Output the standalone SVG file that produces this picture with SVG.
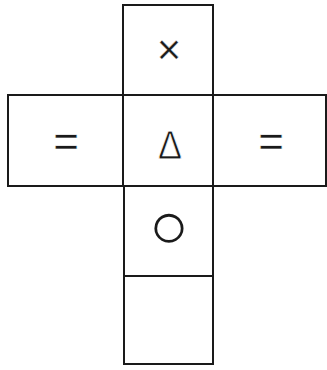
<svg xmlns="http://www.w3.org/2000/svg" width="327" height="370" viewBox="0 0 327 370">
<style>
.sq{fill:none;stroke:#1a1a1a;stroke-width:2}
.sym{font-family:"Liberation Sans","DejaVu Sans",sans-serif;fill:#1a1a1a;text-anchor:middle;stroke:#fff;stroke-width:0.4}
</style>
<rect width="327" height="370" fill="#fff"/>
<g id="top"><rect class="sq" x="123" y="5" width="90" height="90"/><text class="sym" x="169" y="64" font-size="42">×</text></g>
<g id="left"><rect class="sq" x="8" y="95" width="115" height="91"/><text class="sym" x="66" y="157" font-size="44">=</text></g>
<g id="center"><rect class="sq" x="123" y="95" width="90" height="91"/><text class="sym" x="170" y="159" font-size="40" style="stroke-width:0.8" transform="translate(170 0) scale(0.9 1) translate(-170 0)">Δ</text></g>
<g id="right"><rect class="sq" x="213" y="95" width="113" height="91"/><text class="sym" x="271" y="157" font-size="44">=</text></g>
<g id="mid"><rect class="sq" x="124" y="186" width="89" height="90"/><text class="sym" x="169" y="248" font-size="66" font-family="DejaVu Sans" style="stroke:none">○</text></g>
<g id="bottom"><rect class="sq" x="124" y="276" width="89" height="88"/></g>
<g id="connectors"></g>
</svg>
